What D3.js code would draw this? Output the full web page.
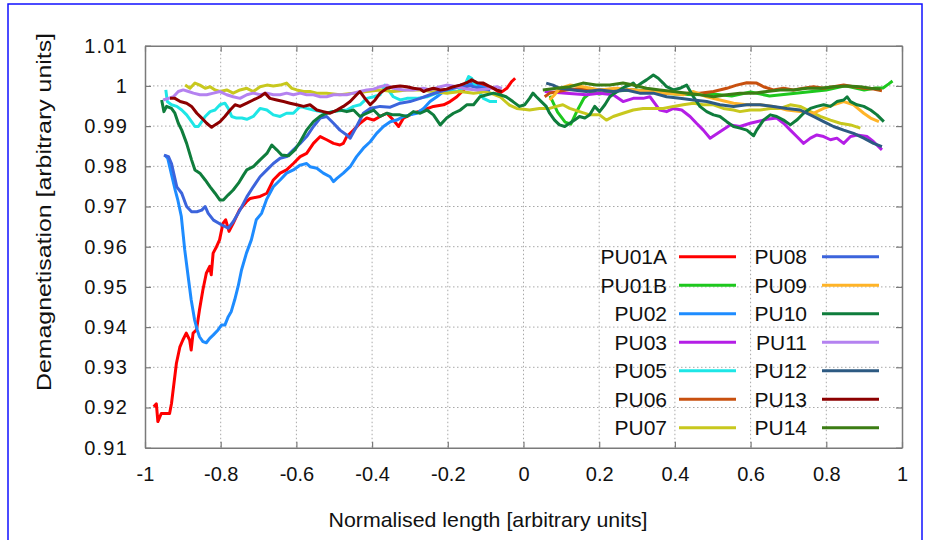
<!DOCTYPE html>
<html>
<head>
<meta charset="utf-8">
<script src="https://cdn.jsdelivr.net/npm/d3@7"></script>
<style>
  body { margin: 0; background: #fff; }
  svg text { font-family: "Liberation Sans", Arial, sans-serif; fill: #111; }
</style>
</head>
<body>
<div id="chart"></div>
<script>
// tick values
var xTicks = [-1, -0.8, -0.6, -0.4, -0.2, 0, 0.2, 0.4, 0.6, 0.8, 1];
var yTicks = [0.91, 0.92, 0.93, 0.94, 0.95, 0.96, 0.97, 0.98, 0.99, 1, 1.01];

// series names, same order as the legend
var seriesNames = ["PU01A", "PU01B", "PU02", "PU03", "PU05", "PU06", "PU07",
                   "PU08", "PU09", "PU10", "PU11", "PU12", "PU13", "PU14"];
var seriesColors = ["#ff0000", "#1ec81e", "#1e8cff", "#b41ee6", "#1ee6e6", "#c8500f", "#c8c81e",
                    "#3c64dc", "#ffb428", "#0f7d3c", "#b482f0", "#2d5a82", "#8c0000", "#3c7d14"];

// [x, y]
var pu01a = [[-0.977,0.9202],[-0.970,0.9209],[-0.966,0.9165],[-0.957,0.9185],[-0.935,0.9185],[-0.930,0.921],
  [-0.917,0.931],[-0.908,0.935],[-0.900,0.9368],[-0.891,0.9385],[-0.882,0.9368],[-0.878,0.9343],[-0.873,0.9385],
  [-0.864,0.9393],[-0.856,0.9443],[-0.847,0.9493],[-0.838,0.9534],[-0.829,0.9551],[-0.825,0.953],[-0.820,0.9584],
  [-0.811,0.960],[-0.803,0.9617],[-0.794,0.9658],[-0.787,0.9667],[-0.778,0.9638],[-0.767,0.9658],[-0.750,0.9692],
  [-0.732,0.9712],[-0.722,0.972],[-0.696,0.9725],[-0.678,0.9733],[-0.661,0.9766],[-0.643,0.9783],[-0.626,0.9791],
  [-0.608,0.9807],[-0.590,0.9824],[-0.573,0.9832],[-0.555,0.9857],[-0.537,0.9874],[-0.520,0.9866],[-0.502,0.9857],
  [-0.485,0.9853],[-0.476,0.9857],[-0.467,0.9874],[-0.449,0.989],[-0.432,0.9907],[-0.414,0.992],[-0.396,0.9915],
  [-0.379,0.9924],[-0.361,0.9932],[-0.344,0.9915],[-0.330,0.9899],[-0.317,0.992],[-0.291,0.9932],[-0.264,0.994],
  [-0.238,0.9949],[-0.211,0.9953],[-0.194,0.9961],[-0.176,0.9973],[-0.150,0.9998],[-0.132,1.0011],[-0.123,1.0007],
  [-0.106,1.0002],[-0.079,0.9994],[-0.062,0.9982],[-0.044,0.9994],[-0.031,1.0011],[-0.022,1.0019]];

var pu01b = [[0.07,0.9975],[0.09,0.9935],[0.11,0.991],[0.125,0.9905],[0.14,0.9935],[0.16,0.997],[0.18,0.9985],
  [0.2,0.998],[0.25,0.9988],[0.3,0.999],[0.35,0.9985],[0.4,0.998],[0.45,0.9978],[0.5,0.998],[0.55,0.9975],
  [0.6,0.9985],[0.65,0.9975],[0.7,0.998],[0.75,0.9985],[0.8,0.999],[0.85,1.0],[0.9,0.999],[0.93,0.9995],
  [0.95,0.9995],[0.965,1.0005],[0.975,1.0012]];

var pu02 = [[-0.948,0.9828],[-0.940,0.982],[-0.930,0.978],[-0.920,0.974],[-0.913,0.9715],[-0.904,0.9675],
  [-0.895,0.9592],[-0.886,0.9526],[-0.878,0.9468],[-0.869,0.9418],[-0.862,0.9393],[-0.856,0.9376],[-0.847,0.9364],
  [-0.838,0.9361],[-0.829,0.9372],[-0.820,0.938],[-0.807,0.9393],[-0.798,0.9405],[-0.789,0.9405],[-0.780,0.9426],
  [-0.772,0.9439],[-0.763,0.9468],[-0.754,0.9501],[-0.745,0.9542],[-0.732,0.9584],[-0.719,0.9617],[-0.706,0.9667],
  [-0.692,0.9683],[-0.679,0.9717],[-0.661,0.9749],[-0.643,0.9766],[-0.626,0.9783],[-0.608,0.9791],[-0.590,0.9803],
  [-0.573,0.9807],[-0.564,0.9799],[-0.546,0.9795],[-0.529,0.9783],[-0.511,0.9774],[-0.502,0.9762],[-0.493,0.977],
  [-0.476,0.9783],[-0.458,0.9799],[-0.441,0.9824],[-0.423,0.9845],[-0.405,0.9861],[-0.388,0.9882],[-0.370,0.9899],
  [-0.352,0.9911],[-0.335,0.9915],[-0.317,0.9924],[-0.300,0.9928],[-0.282,0.9932],[-0.264,0.9944],[-0.247,0.9961],
  [-0.229,0.9973],[-0.211,0.9986],[-0.194,0.9994],[-0.167,1.0002],[-0.141,1.0005],[-0.123,1.0002],[-0.097,0.9994]];

var pu03 = [[0.056,0.9986],[0.113,0.9982],[0.166,0.9978],[0.201,0.9982],[0.237,0.9978],[0.263,0.9961],[0.290,0.9969],
  [0.316,0.9969],[0.334,0.9973],[0.360,0.994],[0.378,0.9936],[0.396,0.9944],[0.418,0.994],[0.440,0.9924],[0.457,0.9907],
  [0.475,0.989],[0.493,0.987],[0.519,0.9886],[0.546,0.9903],[0.572,0.9899],[0.599,0.9907],[0.616,0.9911],[0.643,0.9917],
  [0.669,0.992],[0.687,0.9907],[0.705,0.989],[0.722,0.9874],[0.740,0.9857],[0.758,0.987],[0.775,0.9878],[0.793,0.9874],
  [0.811,0.9866],[0.828,0.987],[0.846,0.9857],[0.864,0.9874],[0.881,0.9878],[0.908,0.9874],[0.925,0.9861],[0.947,0.9841]];

var pu05 = [[-0.945,0.999],[-0.941,0.9961],[-0.930,0.9953],[-0.916,0.9949],[-0.903,0.994],[-0.890,0.9928],[-0.877,0.9911],
  [-0.868,0.9899],[-0.859,0.9899],[-0.850,0.9911],[-0.841,0.9924],[-0.828,0.9936],[-0.815,0.994],[-0.802,0.9953],
  [-0.789,0.9957],[-0.780,0.9944],[-0.771,0.9924],[-0.758,0.992],[-0.744,0.992],[-0.731,0.9917],[-0.714,0.9924],
  [-0.696,0.9944],[-0.678,0.994],[-0.661,0.9928],[-0.643,0.9924],[-0.626,0.9932],[-0.608,0.9932],[-0.590,0.9949],
  [-0.573,0.9944],[-0.555,0.994],[-0.537,0.9936],[-0.520,0.9932],[-0.507,0.9936],[-0.467,0.994],[-0.449,0.9949],
  [-0.432,0.9953],[-0.414,0.9969],[-0.396,0.9973],[-0.379,0.9978],[-0.366,1.0002],[-0.357,0.999],[-0.344,0.9973],
  [-0.326,0.9965],[-0.308,0.9969],[-0.282,0.9969],[-0.255,0.9973],[-0.229,0.9982],[-0.203,0.9986],[-0.176,0.9986],
  [-0.159,0.9994],[-0.145,1.0023],[-0.137,1.0019],[-0.123,0.9994],[-0.106,0.9969],[-0.088,0.9961],[-0.070,0.9961]];

var pu06 = [[0.056,0.9973],[0.069,0.9982],[0.113,0.999],[0.157,0.9994],[0.201,0.999],[0.245,0.9992],[0.290,0.999],
  [0.334,0.9986],[0.378,0.9982],[0.422,0.9982],[0.466,0.9982],[0.502,0.9986],[0.537,0.9994],[0.563,1.0002],
  [0.590,1.0008],[0.616,1.0007],[0.634,0.9998],[0.660,0.999],[0.687,0.9994],[0.713,0.999],[0.740,0.9994],
  [0.766,0.9998],[0.793,0.9994],[0.819,0.9998],[0.846,1.0002],[0.872,0.9998],[0.899,0.9994],[0.925,0.9992],[0.947,0.9988]];

var pu07 = [[-0.894,1.0002],[-0.881,0.9994],[-0.868,1.0007],[-0.855,1.0002],[-0.841,0.9994],[-0.828,0.9998],
  [-0.815,0.999],[-0.802,0.9986],[-0.784,0.999],[-0.767,0.9982],[-0.749,0.999],[-0.731,0.9994],[-0.714,0.9986],
  [-0.696,0.9998],[-0.678,1.0002],[-0.661,1.0],[-0.643,1.0002],[-0.626,1.0007],[-0.612,0.9994],[-0.599,0.999],
  [-0.581,0.9986],[-0.564,0.9986],[-0.546,0.9982],[-0.520,0.9982],[-0.485,0.9978],[-0.449,0.9982],[-0.414,0.9986],
  [-0.379,0.999],[-0.344,0.9986],[-0.308,0.999],[-0.273,0.999],[-0.238,0.9986],[-0.203,0.9982],[-0.167,0.9986],
  [-0.132,0.9982],[-0.097,0.9986],[-0.062,0.9973],[-0.037,0.9952],[-0.018,0.9944],[0.0,0.9942],[0.016,0.994],
  [0.042,0.9944],[0.069,0.9944],[0.087,0.9949],[0.104,0.9953],[0.122,0.9944],[0.148,0.9936],[0.175,0.9928],
  [0.201,0.9928],[0.219,0.9915],[0.237,0.9924],[0.263,0.9932],[0.290,0.994],[0.316,0.9944],[0.343,0.9944],
  [0.369,0.9944],[0.396,0.9949],[0.422,0.9953],[0.449,0.9957],[0.475,0.9953],[0.502,0.9953],[0.528,0.9944],
  [0.555,0.994],[0.572,0.9936],[0.599,0.994],[0.625,0.994],[0.652,0.9944],[0.678,0.9944],[0.705,0.9953],
  [0.731,0.9949],[0.758,0.9936],[0.784,0.9924],[0.811,0.9915],[0.837,0.9907],[0.864,0.9903],[0.890,0.9895]];

var pu08 = [[-0.950,0.9828],[-0.938,0.9824],[-0.930,0.9807],[-0.916,0.9749],[-0.903,0.9733],[-0.890,0.970],
  [-0.877,0.9687],[-0.863,0.9687],[-0.850,0.9691],[-0.841,0.970],[-0.833,0.9683],[-0.819,0.9666],[-0.797,0.9654],
  [-0.780,0.9646],[-0.767,0.9662],[-0.749,0.9691],[-0.731,0.9724],[-0.714,0.9749],[-0.696,0.9774],[-0.678,0.9791],
  [-0.661,0.9807],[-0.643,0.982],[-0.626,0.9824],[-0.608,0.9841],[-0.590,0.9857],[-0.573,0.9874],[-0.555,0.9899],
  [-0.537,0.992],[-0.520,0.9924],[-0.502,0.9907],[-0.485,0.989],[-0.467,0.9878],[-0.458,0.987],[-0.441,0.9899],
  [-0.423,0.9932],[-0.405,0.9944],[-0.379,0.9949],[-0.352,0.9947],[-0.326,0.9957],[-0.300,0.9961],[-0.273,0.9969],
  [-0.247,0.9978],[-0.220,0.9986],[-0.194,0.9992],[-0.167,0.9998],[-0.141,1.0],[-0.115,0.9994],[-0.088,0.999]];

var pu09 = [[0.069,0.9965],[0.082,0.9978],[0.095,0.9994],[0.122,1.0002],[0.157,0.9998],[0.201,0.999],[0.245,0.9994],
  [0.290,0.999],[0.334,0.9986],[0.378,0.9982],[0.422,0.9978],[0.449,0.9986],[0.484,0.9973],[0.519,0.9965],
  [0.555,0.9957],[0.590,0.9953],[0.625,0.9953],[0.660,0.9949],[0.696,0.994],[0.731,0.9936],[0.766,0.9932],
  [0.793,0.9944],[0.819,0.9953],[0.846,0.9961],[0.872,0.9953],[0.899,0.9932],[0.917,0.992],[0.939,0.9911]];

var pu10 = [[-0.956,0.9965],[-0.950,0.9936],[-0.943,0.9949],[-0.930,0.9944],[-0.921,0.9932],[-0.912,0.9907],
  [-0.903,0.989],[-0.890,0.9857],[-0.877,0.9816],[-0.868,0.9791],[-0.855,0.9783],[-0.841,0.9766],[-0.828,0.9749],
  [-0.815,0.9733],[-0.802,0.9716],[-0.793,0.9716],[-0.780,0.9729],[-0.767,0.9741],[-0.753,0.9758],[-0.740,0.9778],
  [-0.731,0.9791],[-0.714,0.9799],[-0.696,0.9816],[-0.678,0.9832],[-0.665,0.9853],[-0.652,0.9841],[-0.639,0.9828],
  [-0.621,0.9826],[-0.604,0.9841],[-0.590,0.9861],[-0.573,0.989],[-0.555,0.9911],[-0.537,0.9925],[-0.520,0.9932],
  [-0.502,0.9936],[-0.485,0.994],[-0.467,0.9936],[-0.449,0.994],[-0.432,0.9924],[-0.414,0.9932],[-0.396,0.994],
  [-0.379,0.9924],[-0.361,0.9932],[-0.344,0.9928],[-0.326,0.9928],[-0.308,0.9924],[-0.291,0.9936],[-0.273,0.9932],
  [-0.255,0.994],[-0.238,0.9928],[-0.220,0.9903],[-0.203,0.992],[-0.185,0.9932],[-0.167,0.994],[-0.150,0.9953],
  [-0.132,0.9953],[-0.115,0.9973],[-0.097,0.9978],[-0.079,0.9982],[-0.062,0.9978],[-0.046,0.9973],[-0.028,0.9961],
  [-0.011,0.9949],[0.003,0.9953],[0.016,0.9969],[0.025,0.9982],[0.034,0.9973],[0.047,0.9961],[0.060,0.9949],
  [0.069,0.9932],[0.082,0.9915],[0.095,0.9903],[0.109,0.9899],[0.122,0.9907],[0.135,0.9915],[0.148,0.9924],
  [0.162,0.992],[0.175,0.9928],[0.188,0.9949],[0.201,0.9936],[0.215,0.9953],[0.228,0.9973],[0.241,0.9982],
  [0.254,0.999],[0.268,0.9998],[0.281,1.0002],[0.290,1.0007],[0.298,0.9998],[0.312,1.0007],[0.325,1.0015],
  [0.343,1.0027],[0.356,1.0019],[0.369,1.0007],[0.378,0.9998],[0.396,0.999],[0.413,0.9994],[0.431,1.0002],
  [0.449,0.9973],[0.466,0.9949],[0.484,0.9936],[0.502,0.9928],[0.519,0.9924],[0.537,0.9911],[0.555,0.9899],
  [0.572,0.9895],[0.590,0.989],[0.608,0.9876],[0.616,0.989],[0.634,0.9915],[0.652,0.9928],[0.669,0.9924],
  [0.687,0.9915],[0.705,0.9903],[0.722,0.9915],[0.740,0.9932],[0.758,0.9944],[0.775,0.9949],[0.793,0.9953],
  [0.811,0.9949],[0.828,0.9961],[0.846,0.9965],[0.855,0.9973],[0.864,0.9961],[0.881,0.9953],[0.899,0.9949],
  [0.917,0.994],[0.934,0.9928],[0.952,0.9911]];

var pu11 = [[-0.952,0.9965],[-0.938,0.9969],[-0.925,0.9973],[-0.912,0.9986],[-0.899,0.999],[-0.885,0.9986],
  [-0.872,0.9982],[-0.855,0.9978],[-0.837,0.9978],[-0.819,0.9982],[-0.802,0.9986],[-0.784,0.9978],[-0.767,0.9973],
  [-0.749,0.9969],[-0.731,0.9978],[-0.714,0.9982],[-0.696,0.9978],[-0.678,0.9982],[-0.661,0.9978],[-0.643,0.9978],
  [-0.626,0.9982],[-0.608,0.9978],[-0.590,0.9982],[-0.573,0.9978],[-0.555,0.9978],[-0.537,0.9973],[-0.520,0.9973],
  [-0.502,0.9978],[-0.485,0.9978],[-0.467,0.9978],[-0.449,0.9982],[-0.432,0.9986],[-0.414,0.999],[-0.396,0.9992],
  [-0.379,0.9998],[-0.361,1.0002],[-0.344,0.9994],[-0.317,0.999],[-0.291,0.999],[-0.264,0.9994],[-0.247,0.999],
  [-0.220,0.9998],[-0.203,1.0002],[-0.176,0.9998],[-0.150,0.9992],[-0.123,0.999],[-0.097,0.9992],[-0.071,0.9998],
  [-0.057,0.9994]];

var pu12 = [[0.060,1.0007],[0.078,1.0002],[0.095,0.9994],[0.131,0.999],[0.166,0.9986],[0.201,0.999],[0.237,0.9986],
  [0.272,0.999],[0.307,0.9982],[0.343,0.9982],[0.378,0.9973],[0.413,0.9969],[0.449,0.9965],[0.484,0.9961],
  [0.519,0.9953],[0.555,0.9949],[0.590,0.9953],[0.625,0.9953],[0.660,0.9949],[0.696,0.9944],[0.731,0.994],
  [0.766,0.9924],[0.793,0.9911],[0.819,0.9899],[0.846,0.989],[0.872,0.9882],[0.899,0.987],[0.925,0.9857],[0.947,0.9849]];

var pu13 = [[-0.934,0.9969],[-0.921,0.9969],[-0.907,0.9961],[-0.890,0.9957],[-0.877,0.9949],[-0.863,0.9932],
  [-0.850,0.992],[-0.837,0.9907],[-0.824,0.9897],[-0.815,0.9903],[-0.802,0.9911],[-0.789,0.9924],[-0.775,0.994],
  [-0.762,0.9953],[-0.749,0.9949],[-0.731,0.9957],[-0.714,0.9965],[-0.696,0.9973],[-0.683,0.9982],[-0.670,0.9969],
  [-0.652,0.9965],[-0.634,0.9961],[-0.617,0.9957],[-0.599,0.9953],[-0.581,0.9949],[-0.564,0.9953],[-0.546,0.994],
  [-0.529,0.9936],[-0.511,0.9932],[-0.493,0.994],[-0.476,0.9949],[-0.458,0.9961],[-0.441,0.9978],[-0.432,0.9986],
  [-0.419,0.9969],[-0.405,0.9953],[-0.392,0.9965],[-0.379,0.9982],[-0.361,0.9994],[-0.344,0.9998],[-0.326,1.0],
  [-0.308,0.9998],[-0.291,0.9994],[-0.273,0.9992],[-0.264,0.9986],[-0.255,0.999],[-0.238,0.9994],[-0.220,0.999],
  [-0.203,0.9992],[-0.185,0.9998],[-0.167,1.0002],[-0.150,1.0008],[-0.137,1.0015],[-0.123,1.0008],[-0.106,1.0007],
  [-0.088,0.9998],[-0.071,0.999],[-0.057,0.9986]];

var pu14 = [[0.051,0.999],[0.087,0.9994],[0.122,0.9998],[0.157,1.0007],[0.192,1.0002],[0.228,1.0002],[0.263,1.0007],
  [0.290,1.0002],[0.325,0.9994],[0.360,0.999],[0.396,0.9986],[0.431,0.9982],[0.466,0.9978],[0.502,0.9973],
  [0.537,0.9978],[0.572,0.9982],[0.608,0.9982],[0.643,0.9986],[0.678,0.999],[0.713,0.999],[0.749,0.9994],
  [0.784,0.9994],[0.819,0.9998],[0.855,1.0],[0.890,0.9998],[0.917,0.9994],[0.943,0.9992]];

var seriesData = [pu01a, pu01b, pu02, pu03, pu05, pu06, pu07, pu08, pu09, pu10, pu11, pu12, pu13, pu14];

var W = 927, H = 540;
var margin = {left: 145, right: 25, top: 45.7, bottom: 92.3};

var svg = d3.select("#chart").append("svg")
    .attr("width", W)
    .attr("height", H);

var x = d3.scaleLinear().domain([-1, 1]).range([margin.left, W - margin.right]);
var y = d3.scaleLinear().domain([0.91, 1.01]).range([H - margin.bottom, margin.top]);

// plain hyphen for negatives, like the original
var fmt = function(d){ return String(+d.toFixed(2)); };

// blue frame round the figure
svg.append("rect")
    .attr("x", 8).attr("y", 4)
    .attr("width", 914).attr("height", 560)
    .attr("fill", "none")
    .attr("stroke", "#1010ff")
    .attr("stroke-width", 1.5);

// dotted grid
var grid = svg.append("g");
grid.selectAll("line.gx").data(xTicks.slice(1, -1)).enter().append("line")
    .attr("x1", function(d){ return x(d); }).attr("x2", function(d){ return x(d); })
    .attr("y1", y(1.01)).attr("y2", y(0.91))
    .attr("stroke", "#a8a8a8").attr("stroke-width", 1)
    .attr("stroke-dasharray", "1.5,2.5");
grid.selectAll("line.gy").data(yTicks.slice(1, -1)).enter().append("line")
    .attr("x1", x(-1)).attr("x2", x(1))
    .attr("y1", function(d){ return y(d); }).attr("y2", function(d){ return y(d); })
    .attr("stroke", "#a8a8a8").attr("stroke-width", 1)
    .attr("stroke-dasharray", "1.5,2.5");

// axes: ticks pointing inward on all four sides
var axisLeft = d3.axisLeft(y).tickValues(yTicks).tickSizeInner(-6).tickSizeOuter(0)
    .tickPadding(17).tickFormat(fmt);
var axisBottom = d3.axisBottom(x).tickValues(xTicks).tickSizeInner(-6).tickSizeOuter(0)
    .tickPadding(19).tickFormat(fmt);
var axisRight = d3.axisRight(y).tickValues(yTicks).tickSizeInner(-6).tickSizeOuter(0).tickFormat("");
var axisTop = d3.axisTop(x).tickValues(xTicks).tickSizeInner(-6).tickSizeOuter(0).tickFormat("");

var gl = svg.append("g").attr("transform", "translate(" + x(-1) + ",0)").call(axisLeft);
var gb = svg.append("g").attr("transform", "translate(0," + y(0.91) + ")").call(axisBottom);
var gr = svg.append("g").attr("transform", "translate(" + x(1) + ",0)").call(axisRight);
var gt = svg.append("g").attr("transform", "translate(0," + y(1.01) + ")").call(axisTop);

[gl, gb, gr, gt].forEach(function(g) {
    g.selectAll("path").attr("stroke", "#7a7a7a").attr("stroke-width", 1.5);
    g.selectAll("line").attr("stroke", "#7a7a7a").attr("stroke-width", 1.2);
});
gl.selectAll("text").attr("font-size", 20).attr("letter-spacing", 1.2)
    .attr("font-family", "Liberation Sans, Arial, sans-serif").attr("fill", "#111");
gb.selectAll("text").attr("font-size", 20)
    .attr("font-family", "Liberation Sans, Arial, sans-serif").attr("fill", "#111");

// axis titles
svg.append("text")
    .attr("x", 488)
    .attr("y", 527)
    .attr("text-anchor", "middle")
    .attr("font-size", 21)
    .attr("textLength", 319)
    .attr("lengthAdjust", "spacingAndGlyphs")
    .text("Normalised length [arbitrary units]");

svg.append("text")
    .attr("transform", "translate(51,212) rotate(-90)")
    .attr("text-anchor", "middle")
    .attr("font-size", 21)
    .attr("textLength", 358)
    .attr("lengthAdjust", "spacingAndGlyphs")
    .text("Demagnetisation [arbitrary units]");

// data lines
svg.append("clipPath").attr("id", "plotclip").append("rect")
    .attr("x", x(-1)).attr("y", y(1.01))
    .attr("width", x(1) - x(-1)).attr("height", y(0.91) - y(1.01));

var line = d3.line()
    .x(function(d){ return x(d[0]); })
    .y(function(d){ return y(d[1]); });

svg.append("g").attr("clip-path", "url(#plotclip)")
  .selectAll("path").data(seriesData).enter().append("path")
    .attr("d", line)
    .attr("fill", "none")
    .attr("stroke", function(d, i){ return seriesColors[i]; })
    .attr("stroke-width", 3)
    .attr("stroke-linejoin", "round");

// legend, two columns of seven
var legend = svg.append("g");
var rowY = function(i){ return 256.7 + (i % 7) * 28.5; };
var colText = [667, 807], colLine = [679, 822];

seriesNames.forEach(function(name, i) {
    var c = Math.floor(i / 7);
    legend.append("text")
        .attr("x", colText[c])
        .attr("y", rowY(i) + 7.5)
        .attr("text-anchor", "end")
        .attr("font-size", 21)
        .text(name);
    legend.append("line")
        .attr("x1", colLine[c]).attr("x2", colLine[c] + 57)
        .attr("y1", rowY(i)).attr("y2", rowY(i))
        .attr("stroke", seriesColors[i])
        .attr("stroke-width", 3);
});
</script>
</body>
</html>
